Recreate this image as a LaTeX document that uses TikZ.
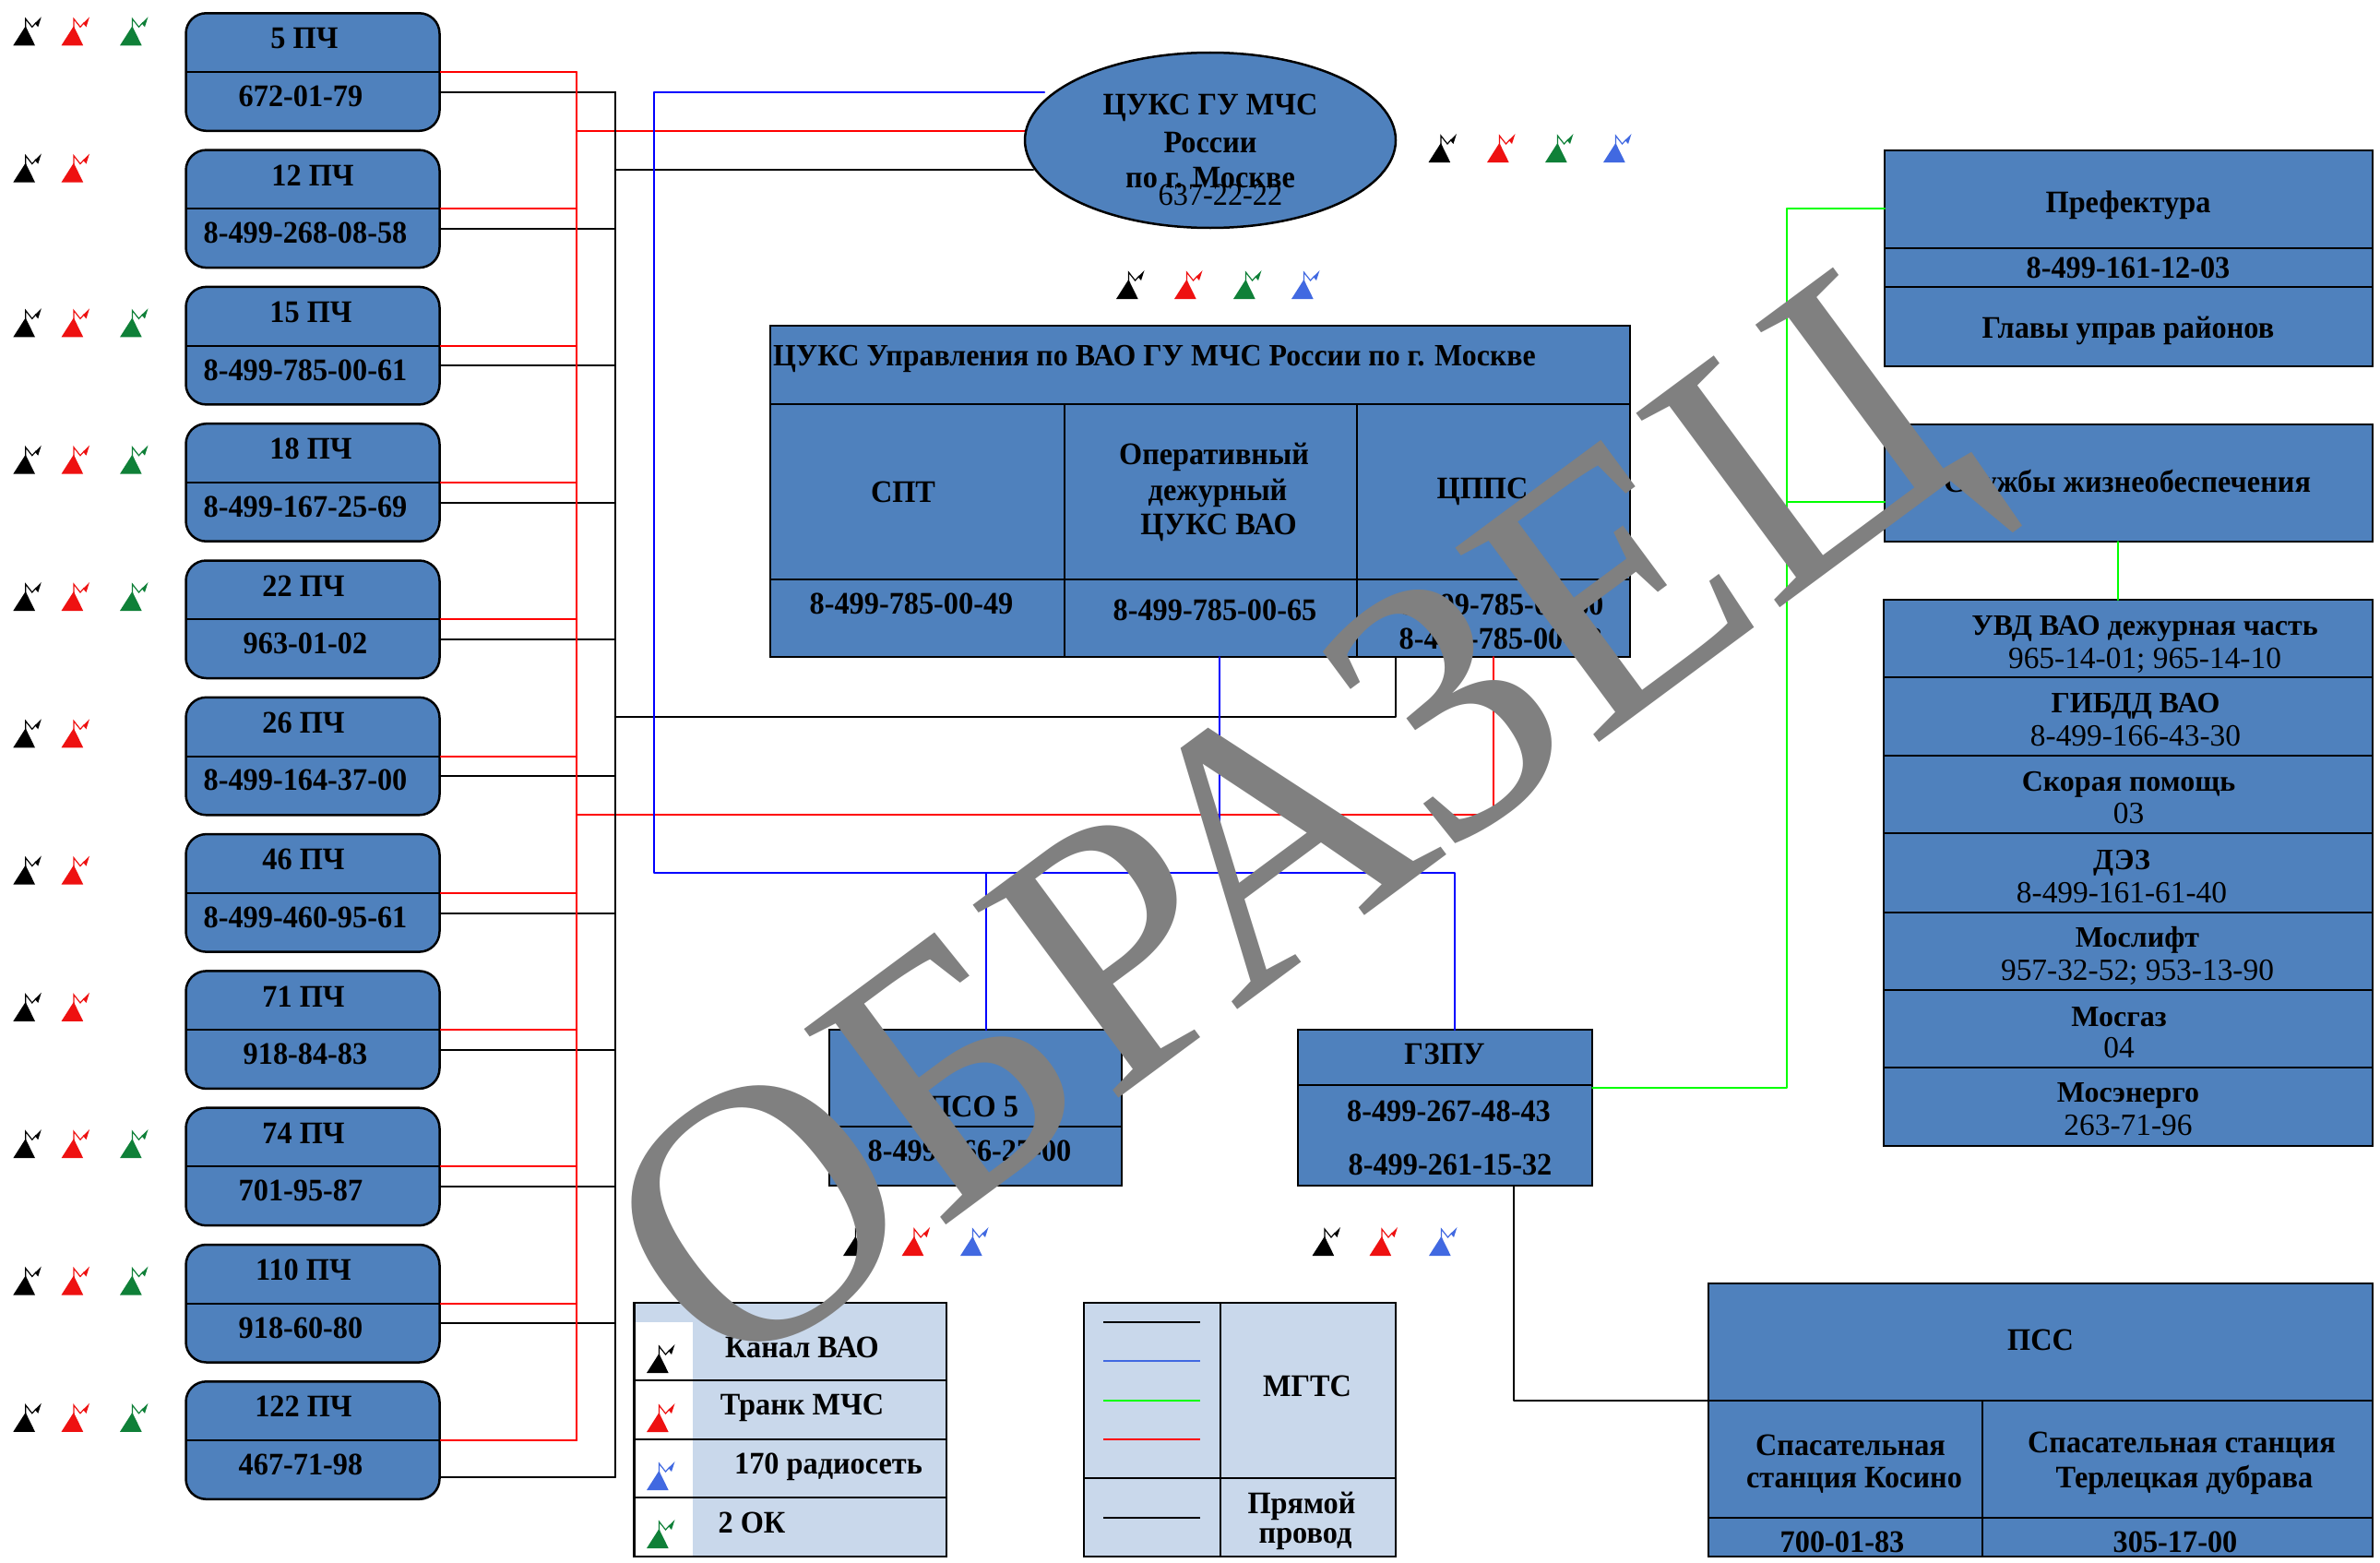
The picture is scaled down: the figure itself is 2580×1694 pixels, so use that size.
\documentclass[tikz,border=0pt]{standalone}
\usepackage{fontspec}
\setmainfont{Liberation Serif}
\newfontfamily\bfam[FakeStretch=0.95]{Liberation Serif Bold}
\newfontfamily\rfam[FakeStretch=0.95]{Liberation Serif}
\newfontfamily\lbfam{Liberation Serif Bold}
\newfontfamily\lrfam{Liberation Serif}
\usetikzlibrary{shapes.geometric}
\definecolor{boxblue}{HTML}{4F81BD}
\definecolor{lightblue}{HTML}{C9D8EB}
\definecolor{antred}{HTML}{EE1111}
\definecolor{antgreen}{HTML}{0F8038}
\definecolor{antblue}{HTML}{4169E1}
\definecolor{wirered}{HTML}{FF0000}
\definecolor{wireblue}{HTML}{0000FF}
\definecolor{wiregreen}{HTML}{00FF00}
\definecolor{markgray}{HTML}{808080}
\tikzset{
  wire/.style={line width=2pt,line cap=round,line join=round},
  rwire/.style={wire,draw=wirered},
  kwire/.style={wire,draw=black},
  bwire/.style={wire,draw=wireblue},
  gwire/.style={wire,draw=wiregreen},
  pchbox/.style={draw=black,fill=boxblue,line width=2.5pt,rounded corners=22pt,minimum width=275pt,minimum height=127.5pt,inner sep=0pt,outer sep=0pt,anchor=north west},
  panel/.style={draw=black,fill=boxblue,line width=2.5pt,inner sep=0pt,outer sep=0pt},
  lite/.style={draw=black,fill=lightblue,line width=2.5pt,inner sep=0pt,outer sep=0pt},
  rule/.style={draw=black,line width=2.5pt},
  bt/.style={inner sep=0pt,outer sep=0pt,font=\fontsize{34}{34}\selectfont\bfam},
  rt/.style={inner sep=0pt,outer sep=0pt,font=\fontsize{34}{34}\selectfont\rfam},
  lb/.style={inner sep=0pt,outer sep=0pt,font=\fontsize{32}{32}\selectfont\lbfam},
  lr/.style={inner sep=0pt,outer sep=0pt,font=\fontsize{33.4}{34}\selectfont\lrfam},
}
\newcommand{\antenna}[3]{%
  \fill[#3] (#1+13.4,#2-21) -- (#1+23.7,#2) -- (#1,#2) -- cycle;
  \draw[#3,line width=1.2pt] (#1+13.4,#2-19) -- (#1+13.4,#2-29) -- (#1+20.5,#2-20) -- (#1+25,#2-25);
  \fill[#3] (#1+30.5,#2-31) -- (#1+27,#2-20) -- (#1+23.5,#2-24) -- cycle;
}
\begin{document}
\begin{tikzpicture}[x=1pt,y=-1pt]
\useasboundingbox (0,0) rectangle (2580,1694);
% bus coordinates
\coordinate (rbustop) at (625,78.3);
\coordinate (kbustop) at (666.5,99.7);
\coordinate (bluebus) at (709,100);
\coordinate (bluejoin) at (709,946);
\coordinate (bluegz) at (1577,946);
\coordinate (bluepso) at (1069,946);
\coordinate (bluetab) at (1322,946);
\coordinate (grbus) at (1937,226);
% main panels
\node[panel,anchor=north west,minimum width=932pt,minimum height=359pt] (main) at (835,353) {};
\node[panel,anchor=north west,minimum width=319pt,minimum height=169pt] (gzpu) at (1407,1116) {};
\node[panel,anchor=north west,minimum width=317pt,minimum height=169pt] (pso) at (899,1116) {};
\node[panel,anchor=north west,minimum width=529pt,minimum height=234pt] (pref) at (2043,163) {};
\node[panel,anchor=north west,minimum width=529pt,minimum height=127pt] (serv) at (2043,460) {};
\node[panel,anchor=north west,minimum width=530pt,minimum height=592pt] (list) at (2042,650) {};
\node[panel,anchor=north west,minimum width=720pt,minimum height=296pt] (pss) at (1852,1391) {};
% boxes of the fire stations
\foreach \i/\t/\p/\tx/\px/\g/\kb/\ib in {
  0/5 ПЧ/672-01-79/330/326/1/99.7/49.3,
  1/12 ПЧ/8-499-268-08-58/339/331/0/248/197.6,
  2/15 ПЧ/8-499-785-00-61/337/331/1/396.3/365.4,
  3/18 ПЧ/8-499-167-25-69/337/331/1/544.6/513.7,
  4/22 ПЧ/963-01-02/329/331/1/692.9/662,
  5/26 ПЧ/8-499-164-37-00/329/331/0/841.2/810.3,
  6/46 ПЧ/8-499-460-95-61/329/331/0/989.5/958.6,
  7/71 ПЧ/918-84-83/329/331/0/1137.8/1106.9,
  8/74 ПЧ/701-95-87/329/326/1/1286.1/1255.2,
  9/110 ПЧ/918-60-80/329/326/1/1434.4/1403.5,
  10/122 ПЧ/467-71-98/329/326/1/1601/1551.8}{
  \pgfmathsetmacro{\rowtop}{14.3+148.3*\i}
  \node[pchbox] (pch\i) at (201.5,\rowtop) {};
  \coordinate (pchk\i) at (476.5,\kb);
  \draw[rwire] (pch\i.east) -- (rbustop |- pch\i.east);
  \draw[kwire] (pchk\i) -- (kbustop |- pchk\i);
  \draw[rule,line width=2pt] (pch\i.west) -- (pch\i.east);
  \node[bt] (pcht\i) at (\tx,\rowtop+27.4) {\t};
  \node[bt] (pchp\i) at (\px,\rowtop+90) {\p};
  \antenna{14.3}{\ib}{black}
  \antenna{66.5}{\ib}{antred}
  \ifnum\g=1 \antenna{130}{\ib}{antgreen}\fi
}
% buses
\coordinate (rbusend) at (625,1561);
\coordinate (kbusend) at (666.5,1601);
\draw[rwire] (rbustop) -- (rbusend);
\draw[rwire] (rbustop |- 0,142) -- (1120,142);
\coordinate (mainr) at (1619,712);
\coordinate (maink) at (1513,712);
\coordinate (mainb) at (1322,712);
\draw[rwire] (rbustop |- 0,883) -- (1619,883) -- (mainr);
\draw[kwire] (kbustop) -- (kbusend);
\draw[kwire] (kbustop |- 0,184) -- (1120,184);
\draw[kwire] (kbustop |- 0,777) -- (1513,777) -- (maink);
\draw[bwire] (1132,100) -- (bluebus) -- (bluejoin) -- (bluegz) -- (gzpu.north -| bluegz);
\draw[bwire] (bluepso) -- (pso.north -| bluepso);
\draw[bwire] (mainb) -- (bluetab);
\draw[gwire] (pref.west |- grbus) -- (grbus) -- (1937,1179) -- (gzpu.east |- 0,1179);
\draw[gwire] (1937,544) -- (serv.west |- 0,544);
\draw[gwire] (2296,587) -- (2296,650);
\draw[kwire] (1640.5,1285) -- (1640.5,1518) -- (pss.west |- 0,1518);
% ellipse, over the wire ends
\node[ellipse,draw=black,fill=boxblue,line width=2.5pt,minimum width=402pt,minimum height=190pt,inner sep=0pt,outer sep=0pt] (cuks) at (1312,152) {};
\node[bt] (c1) at (1312,117) {ЦУКС ГУ МЧС};
\node[bt] (c2) at (1312,155) {России};
\node[bt] (c3) at (1312,193) {по г. Москве};
\node[rt] (c4) at (1323,211) {637-22-22};
\foreach \x/\c in {1548.5/black,1612/antred,1675/antgreen,1738/antblue}{\antenna{\x}{176}{\c}}
\foreach \x/\c in {1210/black,1273/antred,1337/antgreen,1400/antblue}{\antenna{\x}{324}{\c}}
% main table rules
\draw[rule] (835,438) -- (1767,438);
\draw[rule] (835,628) -- (1767,628);
\draw[rule,line width=2pt] (1154,438) -- (1154,712);
\draw[rule,line width=2pt] (1471,438) -- (1471,712);
\node[inner sep=0pt,outer sep=0pt,anchor=west,font=\fontsize{33.6}{34}\selectfont\bfam] (m0) at (838,389) {ЦУКС Управления по ВАО ГУ МЧС России по г. Москве};
\node[bt] (m1) at (979,533) {СПТ};
\node[bt] (m2) at (1316,495) {Оперативный};
\node[bt] (m3) at (1320,534) {дежурный};
\node[bt] (m4) at (1321,572) {ЦУКС ВАО};
\node[bt] (m5) at (1607,533) {ЦППС};
\node[bt] (m6) at (988,654) {8-499-785-00-49};
\node[bt] (m7) at (1317,661) {8-499-785-00-65};
\node[bt] (m8) at (1628,655) {8-499-785-00-60};
\node[bt] (m9) at (1627,692) {8-499-785-00-63};
% pso
\draw[rule] (899,1221) -- (1216,1221);
\node[bt] (p1) at (1055,1199) {ПСО 5};
\node[bt] (p2) at (1051,1247) {8-499-166-27-00};
\foreach \x/\c in {914/black,977.6/antred,1041/antblue}{\antenna{\x}{1361}{\c}}
% gzpu
\draw[rule] (1407,1176) -- (1726,1176);
\node[bt] (g1) at (1566,1142) {ГЗПУ};
\node[bt] (g2) at (1570.5,1204) {8-499-267-48-43};
\node[bt] (g3) at (1572,1262) {8-499-261-15-32};
\foreach \x/\c in {1422.5/black,1484.5/antred,1549/antblue}{\antenna{\x}{1361}{\c}}
% prefecture
\draw[rule] (2043,269) -- (2572,269);
\draw[rule] (2043,311) -- (2572,311);
\node[bt] (f1) at (2307,222) {Префектура};
\node[bt] (f2) at (2307,290) {8-499-161-12-03};
\node[bt] (f3) at (2307,358) {Главы управ районов};
\node[bt] (s1) at (2306,525) {Службы жизнеобеспечения};
% list
\foreach \y in {734,819,903,989,1073,1157}{\draw[rule] (2042,\y) -- (2572,\y);}
\foreach \n/\x/\ya/\yb/\a/\b in {
  1/2325/681/716/УВД ВАО дежурная часть/{965-14-01; 965-14-10},
  2/2315/765/798/ГИБДД ВАО/8-499-166-43-30,
  3/2307.5/850/882/Скорая помощь/03,
  4/2300/935/968/ДЭЗ/8-499-161-61-40,
  5/2317/1019/1054/Мослифт/{957-32-52; 953-13-90},
  6/2297/1102/1136/Мосгаз/04,
  7/2307/1187/1220/Мосэнерго/263-71-96}{
  \node[lb] (la\n) at (\x,\ya) {\a};
  \node[lr] (lc\n) at (\x,\yb) {\b};
}
% pss
\draw[rule] (1852,1518) -- (2572,1518);
\draw[rule] (1852,1645) -- (2572,1645);
\draw[rule,line width=2pt] (2148.5,1518) -- (2148.5,1687);
\node[bt] (q1) at (2212,1452) {ПСС};
\node[bt] (q2) at (2006,1566) {Спасательная};
\node[bt] (q3) at (2010,1604) {станция Косино};
\node[bt] (q4) at (2365,1566) {Спасательная станция};
\node[bt] (q5) at (2368,1604) {Терлецкая дубрава};
\node[bt] (q6) at (1997,1671) {700-01-83};
\node[bt] (q7) at (2358,1671) {305-17-00};
% legend left
\node[lite,anchor=north west,minimum width=338.5pt,minimum height=275pt] (leg1) at (687.5,1412) {};
\fill[white] (688.5,1433) rectangle (751,1686);
\draw[rule] (687.5,1412) -- (687.5,1687);
\draw[rule] (687.5,1496) -- (1026,1496);
\draw[rule] (687.5,1560) -- (1026,1560);
\draw[rule] (687.5,1623) -- (1026,1623);
\draw[rule] (687.5,1687) -- (1026,1687);
\node[bt] (e1) at (869.5,1460) {Канал ВАО};
\node[bt] (e2) at (869.5,1526) {Транк МЧС};
\node[bt] (e3) at (898,1590) {170 радиосеть};
\node[bt] (e4) at (815,1650) {2 ОК};
\antenna{701}{1488}{black}
\antenna{701}{1552}{antred}
\antenna{701}{1615}{antblue}
\antenna{701}{1678}{antgreen}
% legend right
\node[lite,anchor=north west,minimum width=338pt,minimum height=275pt] (leg2) at (1175,1412) {};
\draw[rule] (1323,1412) -- (1323,1687);
\draw[rule] (1175,1602) -- (1513,1602);
\draw[line width=2pt,draw=black] (1196,1433) -- (1301,1433);
\draw[line width=2pt,draw=antblue] (1196,1475) -- (1301,1475);
\draw[line width=2pt,draw=wiregreen] (1196,1518) -- (1301,1518);
\draw[line width=2pt,draw=wirered] (1196,1560) -- (1301,1560);
\draw[line width=2pt,draw=black] (1196,1645) -- (1301,1645);
\node[bt] (t1) at (1417,1502) {МГТС};
\node[bt] (t2) at (1411,1632) {Прямой};
\node[bt] (t3) at (1415,1668) {провод};
% watermark
\node[inner sep=0pt,text=markgray,rotate=36.5,font=\fontsize{400}{400}\selectfont\lrfam] (mark) at (1415,928) {ОБРАЗЕЦ};
\end{tikzpicture}
\end{document}
